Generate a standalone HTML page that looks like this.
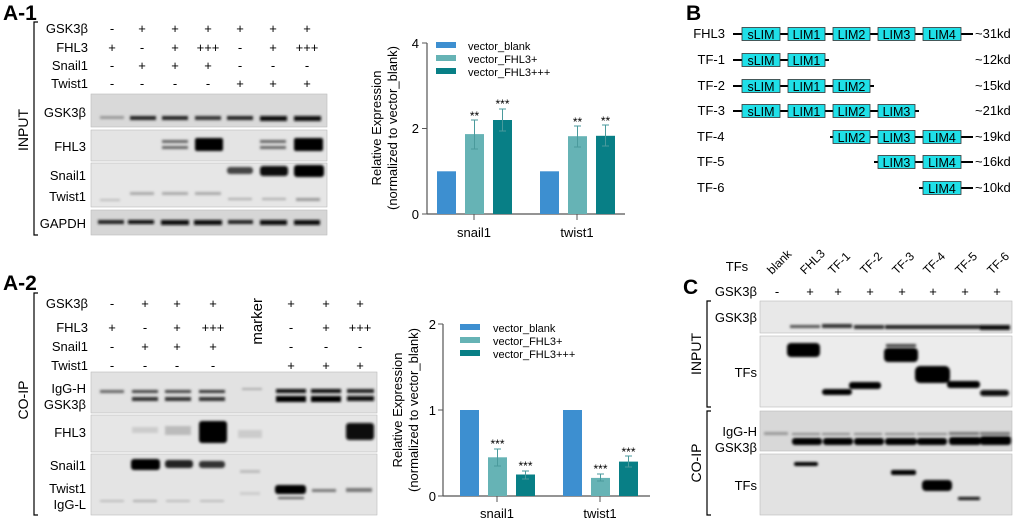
<!DOCTYPE html>
<html><head><meta charset="utf-8"><style>
html,body{margin:0;padding:0;background:#fff}
svg{display:block;font-family:"Liberation Sans",Arial,sans-serif}
</style></head><body>
<svg width="1020" height="522" viewBox="0 0 1020 522" xmlns="http://www.w3.org/2000/svg">
<defs>
<filter id="b" x="-20%" y="-100%" width="140%" height="300%"><feGaussianBlur stdDeviation="1.2"/></filter>
<filter id="b2" x="-20%" y="-100%" width="140%" height="300%"><feGaussianBlur stdDeviation="2"/></filter>
</defs>
<rect width="1020" height="522" fill="#fff"/>

<!-- ================= A-1 ================= -->
<text x="3" y="20" font-size="21" font-weight="bold">A-1</text>
<path d="M38 22 H34 V235 H38" fill="none" stroke="#000" stroke-width="1.2"/>
<text transform="translate(28,130) rotate(-90)" font-size="14" text-anchor="middle">INPUT</text>
<g font-size="13" text-anchor="end">
<text x="88" y="33">GSK3β</text><text x="88" y="52">FHL3</text><text x="88" y="70">Snail1</text><text x="88" y="88">Twist1</text>
<text x="86" y="117">GSK3β</text><text x="86" y="151">FHL3</text><text x="86" y="180">Snail1</text><text x="86" y="201">Twist1</text><text x="86" y="228">GAPDH</text>
</g>
<g font-size="13" text-anchor="middle">
<text x="112" y="33">-</text><text x="142" y="33">+</text><text x="175" y="33">+</text><text x="208" y="33">+</text><text x="240" y="33">+</text><text x="273" y="33">+</text><text x="307" y="33">+</text>
<text x="112" y="52">+</text><text x="142" y="52">-</text><text x="175" y="52">+</text><text x="208" y="52">+++</text><text x="240" y="52">-</text><text x="273" y="52">+</text><text x="307" y="52">+++</text>
<text x="112" y="70">-</text><text x="142" y="70">+</text><text x="175" y="70">+</text><text x="208" y="70">+</text><text x="240" y="70">-</text><text x="273" y="70">-</text><text x="307" y="70">-</text>
<text x="112" y="88">-</text><text x="142" y="88">-</text><text x="175" y="88">-</text><text x="208" y="88">-</text><text x="240" y="88">+</text><text x="273" y="88">+</text><text x="307" y="88">+</text>
</g>
<rect x="91" y="94" width="236" height="33" fill="#d9d9d9" stroke="#bbb" stroke-width="0.6"/>
<rect x="91" y="130" width="236" height="31" fill="#e4e4e4" stroke="#bbb" stroke-width="0.6"/>
<rect x="91" y="163" width="236" height="44" fill="#e6e6e6" stroke="#bbb" stroke-width="0.6"/>
<rect x="91" y="210" width="236" height="25" fill="#d6d6d6" stroke="#bbb" stroke-width="0.6"/>
<g filter="url(#b)">
<rect x="100" y="116" width="24" height="3" fill="#999"/>
<rect x="130" y="116" width="26" height="4" fill="#222"/><rect x="162" y="116" width="26" height="4" fill="#222"/><rect x="195" y="116" width="26" height="4" fill="#333"/>
<rect x="227" y="116" width="26" height="4" fill="#222"/><rect x="260" y="116" width="27" height="5" fill="#111"/><rect x="294" y="116" width="27" height="5" fill="#111"/>
<rect x="162" y="140" width="26" height="3" fill="#666"/><rect x="162" y="146" width="26" height="3" fill="#666"/>
<rect x="195" y="138" width="28" height="13" rx="2" fill="#000"/>
<rect x="260" y="140" width="26" height="3" fill="#666"/><rect x="260" y="146" width="26" height="3" fill="#666"/>
<rect x="294" y="138" width="29" height="13" rx="2" fill="#000"/>
<rect x="227" y="167" width="26" height="7" rx="3" fill="#444"/><rect x="260" y="166" width="28" height="10" rx="3" fill="#111"/><rect x="294" y="165" width="30" height="12" rx="3" fill="#000"/>
<rect x="130" y="192" width="24" height="3" fill="#aaa"/><rect x="162" y="192" width="26" height="3" fill="#aaa"/><rect x="195" y="192" width="26" height="3" fill="#aaa"/>
<rect x="100" y="199" width="20" height="2" fill="#bbb"/><rect x="228" y="198" width="24" height="2" fill="#aaa"/><rect x="262" y="198" width="24" height="2" fill="#aaa"/><rect x="296" y="198" width="24" height="3" fill="#999"/>
<rect x="98" y="220" width="26" height="4" fill="#222"/><rect x="128" y="220" width="26" height="4" fill="#111"/><rect x="161" y="220" width="28" height="5" fill="#111"/><rect x="194" y="220" width="28" height="5" fill="#111"/>
<rect x="228" y="220" width="25" height="4" fill="#222"/><rect x="260" y="220" width="27" height="5" fill="#111"/><rect x="294" y="220" width="26" height="5" fill="#111"/>
</g>

<!-- ================= Chart 1 ================= -->
<g>
<line x1="427" y1="43" x2="427" y2="214" stroke="#555" stroke-width="1.2"/>
<line x1="427" y1="214" x2="625" y2="214" stroke="#555" stroke-width="1.2"/>
<line x1="422" y1="43" x2="427" y2="43" stroke="#555"/><line x1="422" y1="128.5" x2="427" y2="128.5" stroke="#555"/><line x1="422" y1="214" x2="427" y2="214" stroke="#555"/>
<line x1="474" y1="214" x2="474" y2="220" stroke="#555"/><line x1="577" y1="214" x2="577" y2="220" stroke="#555"/>
<g font-size="13" text-anchor="end"><text x="419" y="48">4</text><text x="419" y="133">2</text><text x="419" y="219">0</text></g>
<g font-size="13" text-anchor="middle"><text x="474" y="237">snail1</text><text x="577" y="237">twist1</text></g>
<text transform="translate(381,128) rotate(-90)" font-size="13" text-anchor="middle">Relative Expression</text>
<text transform="translate(397,128) rotate(-90)" font-size="13" text-anchor="middle">(normalized to vector_blank)</text>
<rect x="437" y="171.3" width="19" height="42.7" fill="#3d8fd0"/>
<rect x="465" y="134.1" width="19" height="79.9" fill="#66b3b5"/>
<rect x="493" y="120" width="19" height="94" fill="#087f86"/>
<rect x="540" y="171.3" width="19" height="42.7" fill="#3d8fd0"/>
<rect x="568" y="136.2" width="19" height="77.8" fill="#66b3b5"/>
<rect x="596" y="135.8" width="19" height="78.2" fill="#087f86"/>
<g stroke="#4a9a9c" stroke-width="1" fill="none">
<path d="M474.5 149 V120 M471 120 H478 M471 149 H478"/>
<path d="M502.5 131 V109 M499 109 H506 M499 131 H506"/>
<path d="M577.5 147 V126 M574 126 H581 M574 147 H581"/>
<path d="M605.5 146 V125 M602 125 H609 M602 146 H609"/>
</g>
<g font-size="12" text-anchor="middle"><text x="474.5" y="120">**</text><text x="502.5" y="108">***</text><text x="577.5" y="126">**</text><text x="605.5" y="125">**</text></g>
<rect x="436" y="42" width="20" height="6" fill="#3d8fd0"/><rect x="436" y="55" width="20" height="6" fill="#66b3b5"/><rect x="436" y="68" width="20" height="6" fill="#087f86"/>
<g font-size="11"><text x="468" y="50">vector_blank</text><text x="468" y="63">vector_FHL3+</text><text x="468" y="76">vector_FHL3+++</text></g>
</g>

<!-- ================= B ================= -->
<text x="686" y="20" font-size="21" font-weight="bold">B</text>
<g font-size="13">
<g text-anchor="end"><text x="725" y="38">FHL3</text><text x="725" y="64">TF-1</text><text x="725" y="90">TF-2</text><text x="725" y="115">TF-3</text></g>
<text x="697" y="141">TF-4</text><text x="697" y="166">TF-5</text><text x="697" y="192">TF-6</text>
<text x="975" y="38">~31kd</text><text x="975" y="64">~12kd</text><text x="975" y="90">~15kd</text><text x="975" y="115">~21kd</text><text x="975" y="141">~19kd</text><text x="975" y="166">~16kd</text><text x="975" y="192">~10kd</text>
</g>
<g stroke="#000" stroke-width="2">
<line x1="733" y1="34" x2="973" y2="34"/><line x1="733" y1="60" x2="829" y2="60"/><line x1="733" y1="86" x2="874" y2="86"/><line x1="733" y1="111" x2="919" y2="111"/>
<line x1="830" y1="137" x2="973" y2="137"/><line x1="874" y1="162" x2="973" y2="162"/><line x1="919" y1="188" x2="973" y2="188"/>
</g>
<g fill="#1fe0e8" stroke="#333" stroke-width="0.8">
<rect x="742" y="27.5" width="38" height="13"/><rect x="788" y="27.5" width="37" height="13"/><rect x="833" y="27.5" width="37" height="13"/><rect x="878" y="27.5" width="37" height="13"/><rect x="923" y="27.5" width="38" height="13"/>
<rect x="742" y="53.5" width="38" height="13"/><rect x="788" y="53.5" width="37" height="13"/>
<rect x="742" y="79.5" width="38" height="13"/><rect x="788" y="79.5" width="37" height="13"/><rect x="833" y="79.5" width="37" height="13"/>
<rect x="742" y="104.5" width="38" height="13"/><rect x="788" y="104.5" width="37" height="13"/><rect x="833" y="104.5" width="37" height="13"/><rect x="878" y="104.5" width="37" height="13"/>
<rect x="833" y="130.5" width="37" height="13"/><rect x="878" y="130.5" width="37" height="13"/><rect x="923" y="130.5" width="38" height="13"/>
<rect x="878" y="155.5" width="37" height="13"/><rect x="923" y="155.5" width="38" height="13"/>
<rect x="923" y="181.5" width="38" height="13"/>
</g>
<g font-size="12.5" text-anchor="middle">
<text x="761" y="39">sLIM</text><text x="806.5" y="39">LIM1</text><text x="851.5" y="39">LIM2</text><text x="896.5" y="39">LIM3</text><text x="942" y="39">LIM4</text>
<text x="761" y="65">sLIM</text><text x="806.5" y="65">LIM1</text>
<text x="761" y="91">sLIM</text><text x="806.5" y="91">LIM1</text><text x="851.5" y="91">LIM2</text>
<text x="761" y="116">sLIM</text><text x="806.5" y="116">LIM1</text><text x="851.5" y="116">LIM2</text><text x="896.5" y="116">LIM3</text>
<text x="851.5" y="142">LIM2</text><text x="896.5" y="142">LIM3</text><text x="942" y="142">LIM4</text>
<text x="896.5" y="167">LIM3</text><text x="942" y="167">LIM4</text>
<text x="942" y="193">LIM4</text>
</g>

<!-- ================= A-2 ================= -->
<text x="3" y="290" font-size="21" font-weight="bold">A-2</text>
<path d="M38 293 H34 V515 H38" fill="none" stroke="#000" stroke-width="1.2"/>
<text transform="translate(28,400) rotate(-90)" font-size="14" text-anchor="middle">CO-IP</text>
<g font-size="13" text-anchor="end">
<text x="88" y="308">GSK3β</text><text x="88" y="332">FHL3</text><text x="88" y="351">Snail1</text><text x="88" y="370">Twist1</text>
<text x="86" y="393">IgG-H</text><text x="86" y="409">GSK3β</text><text x="86" y="437">FHL3</text><text x="86" y="470">Snail1</text><text x="86" y="493">Twist1</text><text x="86" y="509">IgG-L</text>
</g>
<text transform="translate(262,298) rotate(-90)" font-size="15" text-anchor="end">marker</text>
<g font-size="13" text-anchor="middle">
<text x="112" y="308">-</text><text x="145" y="308">+</text><text x="177" y="308">+</text><text x="213" y="308">+</text><text x="291" y="308">+</text><text x="326" y="308">+</text><text x="360" y="308">+</text>
<text x="112" y="332">+</text><text x="145" y="332">-</text><text x="177" y="332">+</text><text x="213" y="332">+++</text><text x="291" y="332">-</text><text x="326" y="332">+</text><text x="360" y="332">+++</text>
<text x="112" y="351">-</text><text x="145" y="351">+</text><text x="177" y="351">+</text><text x="213" y="351">+</text><text x="291" y="351">-</text><text x="326" y="351">-</text><text x="360" y="351">-</text>
<text x="112" y="370">-</text><text x="145" y="370">-</text><text x="177" y="370">-</text><text x="213" y="370">-</text><text x="291" y="370">+</text><text x="326" y="370">+</text><text x="360" y="370">+</text>
</g>
<rect x="91" y="372" width="286" height="41" fill="#e2e2e2" stroke="#bbb" stroke-width="0.6"/>
<rect x="91" y="415" width="286" height="37" fill="#e6e6e6" stroke="#bbb" stroke-width="0.6"/>
<rect x="91" y="454" width="286" height="61" fill="#e4e4e4" stroke="#bbb" stroke-width="0.6"/>
<g filter="url(#b)">
<rect x="100" y="390" width="24" height="3" fill="#666"/><rect x="132" y="390" width="26" height="3" fill="#444"/><rect x="165" y="390" width="26" height="3" fill="#444"/><rect x="199" y="390" width="26" height="3" fill="#333"/>
<rect x="132" y="397" width="26" height="4" fill="#333"/><rect x="165" y="397" width="26" height="4" fill="#333"/><rect x="199" y="397" width="26" height="4" fill="#333"/>
<rect x="242" y="388" width="20" height="2" fill="#aaa"/>
<rect x="276" y="389" width="30" height="4" fill="#111"/><rect x="311" y="389" width="30" height="4" fill="#111"/><rect x="347" y="389" width="27" height="4" fill="#222"/>
<rect x="276" y="396" width="30" height="6" fill="#000"/><rect x="311" y="396" width="30" height="6" fill="#000"/><rect x="347" y="396" width="27" height="5" fill="#111"/>
<rect x="132" y="427" width="26" height="6" fill="#ccc"/><rect x="165" y="426" width="26" height="9" fill="#bbb"/>
<rect x="199" y="421" width="28" height="22" rx="3" fill="#000"/><rect x="238" y="430" width="24" height="8" fill="#ccc"/>
<rect x="346" y="423" width="28" height="17" rx="3" fill="#111"/>
<rect x="131" y="459" width="29" height="11" rx="3" fill="#000"/><rect x="165" y="460" width="28" height="8" rx="3" fill="#222"/><rect x="199" y="461" width="26" height="7" rx="3" fill="#333"/>
<rect x="240" y="470" width="20" height="3" fill="#bbb"/><rect x="240" y="492" width="20" height="3" fill="#ccc"/>
<rect x="275" y="485" width="31" height="9" rx="3" fill="#000"/><rect x="278" y="497" width="26" height="2" fill="#555"/>
<rect x="312" y="489" width="24" height="3" fill="#777"/><rect x="346" y="488" width="26" height="4" fill="#777"/>
<rect x="100" y="500" width="24" height="2" fill="#bbb"/><rect x="133" y="500" width="24" height="2" fill="#aaa"/><rect x="166" y="500" width="24" height="2" fill="#bbb"/><rect x="200" y="500" width="24" height="2" fill="#bbb"/>
</g>

<!-- ================= Chart 2 ================= -->
<g>
<line x1="443" y1="324" x2="443" y2="496" stroke="#555" stroke-width="1.2"/>
<line x1="443" y1="496" x2="650" y2="496" stroke="#555" stroke-width="1.2"/>
<line x1="438" y1="324" x2="443" y2="324" stroke="#555"/><line x1="438" y1="410" x2="443" y2="410" stroke="#555"/><line x1="438" y1="496" x2="443" y2="496" stroke="#555"/>
<line x1="497" y1="496" x2="497" y2="502" stroke="#555"/><line x1="600" y1="496" x2="600" y2="502" stroke="#555"/>
<g font-size="13" text-anchor="end"><text x="436" y="329">2</text><text x="436" y="415">1</text><text x="436" y="501">0</text></g>
<g font-size="13" text-anchor="middle"><text x="497" y="518">snail1</text><text x="600" y="518">twist1</text></g>
<text transform="translate(402,410) rotate(-90)" font-size="13" text-anchor="middle">Relative Expression</text>
<text transform="translate(418,410) rotate(-90)" font-size="13" text-anchor="middle">(normalized to vector_blank)</text>
<rect x="460" y="410" width="19" height="86" fill="#3d8fd0"/>
<rect x="488" y="457.3" width="19" height="38.7" fill="#66b3b5"/>
<rect x="516" y="474.5" width="19" height="21.5" fill="#087f86"/>
<rect x="563" y="410" width="19" height="86" fill="#3d8fd0"/>
<rect x="591" y="477.9" width="19" height="18.1" fill="#66b3b5"/>
<rect x="619" y="461.6" width="19" height="34.4" fill="#087f86"/>
<g stroke="#4a9a9c" stroke-width="1" fill="none">
<path d="M497.5 466 V449 M494 449 H501 M494 466 H501"/>
<path d="M525.5 479 V471 M522 471 H529 M522 479 H529"/>
<path d="M600.5 481 V474 M597 474 H604 M597 481 H604"/>
<path d="M628.5 467 V456 M625 456 H632 M625 467 H632"/>
</g>
<g font-size="12" text-anchor="middle"><text x="497.5" y="448">***</text><text x="525.5" y="470">***</text><text x="600.5" y="473">***</text><text x="628.5" y="456">***</text></g>
<rect x="460" y="324" width="20" height="6" fill="#3d8fd0"/><rect x="460" y="337" width="20" height="6" fill="#66b3b5"/><rect x="460" y="350" width="20" height="6" fill="#087f86"/>
<g font-size="11"><text x="493" y="332">vector_blank</text><text x="493" y="345">vector_FHL3+</text><text x="493" y="358">vector_FHL3+++</text></g>
</g>

<!-- ================= C ================= -->
<text x="683" y="294" font-size="21" font-weight="bold">C</text>
<text x="737" y="271" font-size="13" text-anchor="middle">TFs</text>
<g font-size="12">
<text transform="translate(772,275) rotate(-45)">blank</text>
<text transform="translate(805,275) rotate(-45)">FHL3</text>
<text transform="translate(833,275) rotate(-45)">TF-1</text>
<text transform="translate(865,275) rotate(-45)">TF-2</text>
<text transform="translate(897,275) rotate(-45)">TF-3</text>
<text transform="translate(928,275) rotate(-45)">TF-4</text>
<text transform="translate(960,275) rotate(-45)">TF-5</text>
<text transform="translate(992,275) rotate(-45)">TF-6</text>
</g>
<text x="757" y="296" font-size="13" text-anchor="end">GSK3β</text>
<g font-size="13" text-anchor="middle">
<text x="777" y="296">-</text><text x="810" y="296">+</text><text x="838" y="296">+</text><text x="870" y="296">+</text><text x="902" y="296">+</text><text x="933" y="296">+</text><text x="965" y="296">+</text><text x="997" y="296">+</text>
</g>
<path d="M711 301 H707 V407 H711" fill="none" stroke="#000" stroke-width="1.2"/>
<path d="M711 411 H707 V515 H711" fill="none" stroke="#000" stroke-width="1.2"/>
<text transform="translate(701,354) rotate(-90)" font-size="14" text-anchor="middle">INPUT</text>
<text transform="translate(701,463) rotate(-90)" font-size="14" text-anchor="middle">CO-IP</text>
<g font-size="13" text-anchor="end">
<text x="757" y="322">GSK3β</text><text x="757" y="377">TFs</text><text x="757" y="436">IgG-H</text><text x="757" y="452">GSK3β</text><text x="757" y="490">TFs</text>
</g>
<rect x="760" y="301" width="252" height="32" fill="#e8e8e8" stroke="#bbb" stroke-width="0.6"/>
<rect x="760" y="336" width="252" height="71" fill="#ececec" stroke="#bbb" stroke-width="0.6"/>
<rect x="760" y="411" width="252" height="40" fill="#d8d8d8" stroke="#bbb" stroke-width="0.6"/>
<rect x="760" y="454" width="252" height="61" fill="#e2e2e2" stroke="#bbb" stroke-width="0.6"/>
<g filter="url(#b)">
<rect x="790" y="325" width="30" height="3" fill="#555"/><rect x="822" y="324" width="30" height="4" fill="#333"/><rect x="854" y="325" width="30" height="4" fill="#333"/>
<rect x="885" y="325" width="32" height="4" fill="#222"/><rect x="917" y="325" width="32" height="4" fill="#222"/><rect x="949" y="325" width="32" height="4" fill="#222"/><rect x="980" y="325" width="30" height="5" fill="#111"/>
<rect x="787" y="343" width="33" height="14" rx="4" fill="#000"/>
<rect x="822" y="389" width="30" height="6" rx="3" fill="#000"/>
<rect x="849" y="382" width="32" height="7" rx="3" fill="#000"/>
<rect x="884" y="348" width="34" height="14" rx="4" fill="#000"/><rect x="886" y="344" width="30" height="3" fill="#444"/>
<rect x="915" y="366" width="35" height="17" rx="5" fill="#000"/>
<rect x="947" y="381" width="33" height="7" rx="3" fill="#000"/>
<rect x="980" y="390" width="29" height="6" rx="3" fill="#111"/>
<rect x="764" y="432" width="24" height="3" fill="#999"/>
<rect x="792" y="433" width="28" height="2" fill="#888"/><rect x="822" y="433" width="28" height="2" fill="#888"/><rect x="854" y="433" width="28" height="2" fill="#888"/><rect x="885" y="433" width="30" height="2" fill="#888"/><rect x="917" y="433" width="30" height="2" fill="#888"/><rect x="949" y="432" width="30" height="3" fill="#777"/><rect x="980" y="432" width="30" height="3" fill="#777"/>
<rect x="792" y="438" width="30" height="7" rx="3" fill="#000"/><rect x="823" y="438" width="30" height="7" rx="3" fill="#000"/><rect x="854" y="438" width="30" height="7" rx="3" fill="#000"/>
<rect x="885" y="438" width="32" height="7" rx="3" fill="#000"/><rect x="917" y="438" width="30" height="7" rx="3" fill="#000"/><rect x="949" y="437" width="32" height="8" rx="3" fill="#000"/><rect x="980" y="436" width="31" height="9" rx="3" fill="#000"/>
<rect x="794" y="462" width="24" height="4" rx="2" fill="#000"/>
<rect x="891" y="470" width="25" height="5" rx="2" fill="#000"/>
<rect x="922" y="480" width="30" height="11" rx="4" fill="#000"/>
<rect x="958" y="497" width="22" height="3" rx="1" fill="#111"/>
</g>
</svg>
</body></html>
